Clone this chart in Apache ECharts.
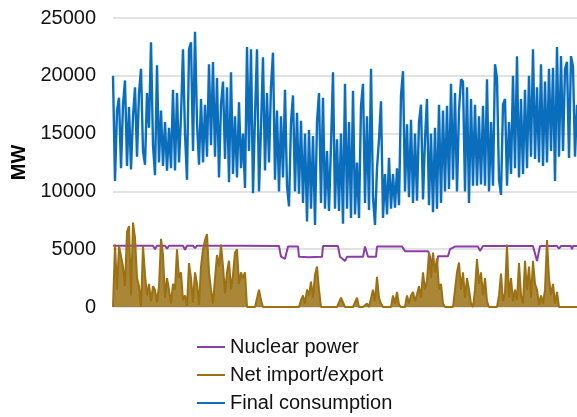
<!DOCTYPE html>
<html>
<head>
<meta charset="utf-8">
<script src="https://cdn.jsdelivr.net/npm/echarts@6/dist/echarts.min.js"></script>
<style>
html,body{margin:0;padding:0;background:#fff;}
#chart{width:577px;height:417px;}
</style>
</head>
<body>
<div id="chart"></div>
<script>
// Series names (legend order)
var seriesNames = ['Nuclear power', 'Net import/export', 'Final consumption'];
// Y-axis ticks
var yTicks = [0, 5000, 10000, 15000, 20000, 25000];

// Final consumption (MW), equally spaced samples over the year
var consumption = [
20000,10900,17000,18100,12000,17500,19600,12200,17300,11900,
16500,19000,13000,18500,20600,13500,12300,18500,15500,22900,
14000,11400,20900,12500,17000,12200,16000,11800,15500,12000,
18800,11800,18500,12500,16500,22300,15000,11000,22300,22900,
13500,23800,16000,12300,18000,12500,17500,13000,21000,14000,
21200,13000,19800,11200,17500,19500,12800,19000,10800,20300,
11500,16500,11200,17700,12000,15000,10300,22500,13500,22300,
9850,16500,22300,10000,15500,21600,11800,18500,12500,19100,
22000,11000,17000,10000,16500,11200,18800,10500,8700,16000,
18300,10000,16800,9800,16100,9000,15000,7400,15300,8500,
14800,7100,16000,18500,9000,18100,8500,13500,8300,14000,
20300,8500,14500,8300,15000,7200,19300,8500,16000,7700,
18700,8000,12500,7700,17400,19300,9000,16500,8400,20600,
9500,7100,12000,14500,17800,7700,11500,8000,12900,8500,
11500,8600,12000,8800,18300,20400,10000,15800,9500,16200,
9000,15000,9200,16000,17500,9300,14500,18000,8800,15000,
8200,15500,8500,17500,9000,17000,10000,17400,10200,19300,
11000,18500,10000,17000,19700,19500,10000,19000,9000,18000,
10500,17500,10500,16500,10600,17400,10500,19700,10000,16000,
10500,21000,19800,11000,9700,17500,18000,10500,16000,11500,
20000,12000,21700,11200,18000,11500,18800,12000,20000,13000,
22300,12800,19000,12500,21000,12200,19500,12500,20600,13500,
20700,10900,22500,13000,21700,13500,20600,21200,12900,21700,
20800,13000,17500
];

// Net import/export (MW), same sampling as consumption (negative part not shown)
var netImport = [
0,5400,1500,5300,5400,3500,1800,6500,7000,1000,
7300,6000,2500,1800,0,5300,2800,1000,2000,500,
1800,1500,400,1800,5900,4500,800,2500,1500,300,
2000,1500,5000,2500,3000,600,1000,100,3800,2500,
400,3000,2000,200,3500,5000,5800,6300,3000,1500,
300,2500,4500,3500,5400,3500,1200,3000,4000,1500,
2800,4700,5000,2000,3000,2500,3000,0,0,0,
0,0,0,1500,600,0,0,0,0,0,
0,0,0,0,0,0,100,0,0,0,
0,0,0,0,600,1000,300,1500,1000,2200,
800,2800,3500,1500,0,0,0,100,0,0,
0,100,0,0,800,700,0,0,0,0,
0,0,800,0,0,0,0,300,0,0,
1500,500,2600,800,300,0,0,0,0,0,
1000,300,1300,200,0,0,0,1000,300,1000,
1300,500,1100,1800,800,3000,1500,2300,4700,2500,
4700,3000,4200,1500,2000,300,0,0,0,0,
0,0,3000,3850,1500,3000,800,2500,1500,300,
0,1500,4150,2000,3000,1000,2500,500,0,0,
0,0,0,1000,2900,500,1200,5400,800,2500,
500,1500,600,3800,1000,300,4000,1500,3500,800,
4000,2000,1500,200,1000,300,1500,5800,2500,1000,
2000,300,1300,0,0,0,0,0,0,0,
0,0,0
];

// Nuclear power (MW): step changes, [sample position, value]
var nuclearPos = [0,20,21,22,26,27,28,35,36,37,40,41,42,48,49,50,62,63,64,
  83,84,86,87,87.5,92.5,93,98,99,104.5,105,112.5,113.5,116,117,125,126,127,127.5,
  131.5,132,144.5,146,157.5,158,159.5,162,162.5,167.5,168.5,171,182.5,183.5,185,
  210,212,213.5,222,223,224,229,229.5,230,232];
var nuclearVal = [5300,5300,5000,5300,5300,5050,5300,5300,4950,5300,5300,5100,5300,5300,5150,5300,5300,5150,5300,
  5280,4350,4170,4340,5230,5230,4340,4300,4340,4340,5270,5270,4340,3970,4340,4340,5230,5230,4340,
  4340,5230,5230,4830,4830,4650,3670,3670,4400,4400,5000,5230,5230,4850,5270,
  5270,3970,5270,5270,5050,5270,5270,5000,5270,5270];

function pairs(arr){ return arr.map(function(v,i){ return [i, v]; }); }
var nuclearData = nuclearPos.map(function(p,i){ return [p, nuclearVal[i]]; });

var chart = echarts.init(document.getElementById('chart'), null, {renderer:'canvas'});
var font = 'Liberation Sans, Arial, sans-serif';
chart.setOption({
  animation: false,
  backgroundColor: '#ffffff',
  grid: { left: 113, right: 0, top: 18, bottom: 110, containLabel: false },
  legend: {
    orient: 'vertical',
    left: 197,
    top: 337,
    padding: 0,
    icon: 'rect',
    itemWidth: 28,
    itemHeight: 2,
    itemGap: 8,
    data: seriesNames,
    textStyle: { fontFamily: font, fontSize: 20, color: '#111' }
  },
  xAxis: {
    type: 'value', min: 0, max: consumption.length - 1,
    show: false
  },
  yAxis: {
    type: 'value', min: yTicks[0], max: yTicks[yTicks.length-1], interval: 5000,
    name: 'MW', nameLocation: 'middle', nameGap: 77,
    nameTextStyle: { fontFamily: font, fontSize: 20, fontWeight: 'bold', color: '#000' },
    axisLine: { show: false }, axisTick: { show: false },
    axisLabel: { fontFamily: font, fontSize: 20, color: '#111', margin: 17,
      formatter: function(v){ return String(v); } },
    splitLine: { lineStyle: { color: '#d9d9d9', width: 1.5 } }
  },
  series: [
    { name: seriesNames[0], type: 'line', data: nuclearData, showSymbol: false, symbol: 'none',
      lineStyle: { color: '#8B3DA6', width: 2 }, itemStyle: { color: '#8B3DA6' } },
    { name: seriesNames[1], type: 'line', data: pairs(netImport), showSymbol: false, symbol: 'none',
      lineStyle: { color: '#9B7114', width: 2 }, itemStyle: { color: '#9B7114' },
      areaStyle: { color: '#9B7114', opacity: 0.85 } },
    { name: seriesNames[2], type: 'line', data: pairs(consumption), showSymbol: false, symbol: 'none',
      lineStyle: { color: '#0A6EBD', width: 2.4 }, itemStyle: { color: '#0A6EBD' } }
  ]
});
</script>
</body>
</html>
